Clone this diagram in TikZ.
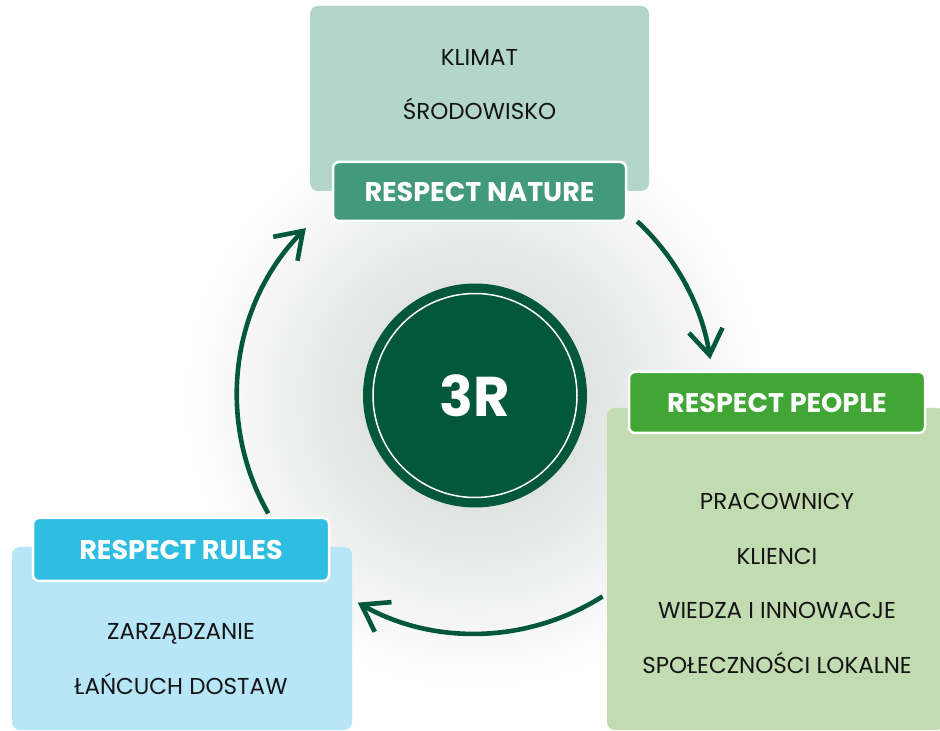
\documentclass[tikz,border=0pt]{standalone}
\usepackage{fontspec}
\setmainfont{Poppins}
\usetikzlibrary{arrows.meta}

\definecolor{natbox}{HTML}{B3D6CA}
\definecolor{nattag}{HTML}{43997B}
\definecolor{peobox}{HTML}{C3DBB1}
\definecolor{peotag}{HTML}{41A636}
\definecolor{rulbox}{HTML}{B8E6F9}
\definecolor{rultag}{HTML}{2FBEE2}
\definecolor{deepgreen}{HTML}{03573A}
\definecolor{glowc}{HTML}{DFE3E0}

\pgfdeclareradialshading{glow}{\pgfpoint{0bp}{0bp}}{color(0bp)=(glowc); color(9bp)=(glowc); color(25bp)=(white); color(50bp)=(white)}

\tikzstyle{panel} = [rectangle, rounded corners=8pt, inner sep=0pt]
\tikzstyle{tag} = [rectangle, rounded corners=6pt, draw=white, line width=2.5pt, text=white, font=\bfseries\fontsize{27}{31}\selectfont, inner sep=0pt]
\tikzstyle{item} = [anchor=base, text=black!92, font=\fontsize{23}{27}\selectfont, inner sep=0pt]
\tikzstyle{arrow} = [line width=4.6pt, draw=deepgreen, -{Straight Barb[length=25pt,width=34pt]}]

\begin{document}
\begin{tikzpicture}[x=1pt, y=1pt]

\clip (0,0) rectangle (940,731);
\fill[white] (0,0) rectangle (940,731);
\shade[shading=glow] (475,333) circle (290);

% Nodes
\node (natbox) [panel, fill=natbox, minimum width=339pt, minimum height=185pt] at (479.5,632.5) {};
\node (klimat) [item] at (479.5,665) {KLIMAT};
\node (srod) [item] at (479.5,611) {ŚRODOWISKO};
\node (nature) [tag, fill=nattag, minimum width=293pt, minimum height=59pt] at (479.5,539.5) {RESPECT NATURE};

\node (peobox) [panel, fill=peobox, minimum width=338pt, minimum height=322pt] at (776,162) {};
\node (prac) [item] at (777,221) {PRACOWNICY};
\node (klienci) [item] at (777,166) {KLIENCI};
\node (wiedza) [item] at (777,112.5) {WIEDZA I INNOWACJE};
\node (spol) [item] at (777,57.5) {SPOŁECZNOŚCI LOKALNE};
\node (people) [tag, fill=peotag, minimum width=296pt, minimum height=61pt] at (777,328.5) {RESPECT PEOPLE};

\node (rulbox) [panel, fill=rulbox, minimum width=340pt, minimum height=183pt] at (182,92.5) {};
\node (zarz) [item] at (181,91) {ZARZĄDZANIE};
\node (lanc) [item] at (181,36.5) {ŁAŃCUCH DOSTAW};
\node (rules) [tag, fill=rultag, minimum width=296pt, minimum height=63pt] at (181,181.5) {RESPECT RULES};

\node (core) [circle, fill=deepgreen, minimum size=224pt, inner sep=0pt] at (475,335.5) {};
\node (ring) [circle, draw=white, line width=1.5pt, minimum size=204pt, inner sep=0pt] at (core.center) {};
\node (threer) [text=white, font=\bfseries\fontsize{56}{60}\selectfont] at (core.center) {3R};

% Arrows
\coordinate (nat-out) at ([shift={(47:238)}]core.center);
\coordinate (peo-out) at ([shift={(-57.6:238)}]core.center);
\coordinate (rul-out) at ([shift={(209.7:238)}]core.center);
\draw [arrow] (nat-out) arc[start angle=47, end angle=8.8, radius=238];
\draw [arrow] (peo-out) arc[start angle=-57.6, end angle=-119.5, radius=238];
\draw [arrow] (rul-out) arc[start angle=209.7, end angle=135.3, radius=238];

\end{tikzpicture}
\end{document}
